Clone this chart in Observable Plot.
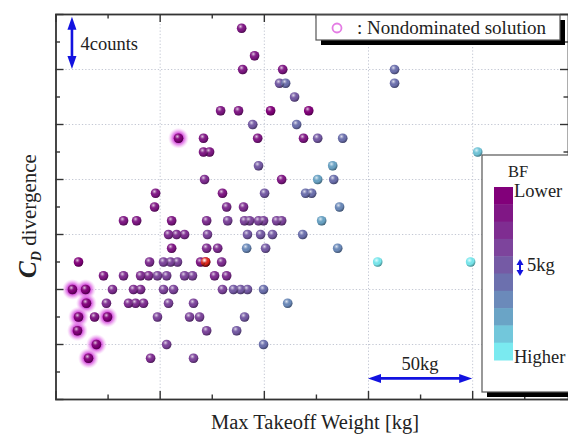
<!DOCTYPE html>
<html><head><meta charset="utf-8">
<script src="https://cdn.jsdelivr.net/npm/d3@7"></script>
<script src="https://cdn.jsdelivr.net/npm/@observablehq/plot@0.6"></script>
<style>
html,body{margin:0;padding:0;background:#fff;}
#chart{width:568px;height:434px;overflow:hidden;}
#chart svg text{font-family:"Liberation Serif","Times New Roman",serif !important;}
</style></head><body><div id="chart"></div>
<script>
// ---------- data ----------
// C_D divergence in counts, one row per level
const cdLevels = [27,25,24,23,22,21,20,19,18,17,16,15,14,13,12,11,10,9,8,7,6,5,4,3];
// Max takeoff weight [kg] of each solution in that row
const weightRows = [
 [89.1],
 [95.3],
 [89.6,108.8,162.5],
 [107.3,110.2,162.5],
 [114.5],
 [79.0,87.6,103.0,121.3],
 [94.4,115.5],
 [58.8,70.8,96.8,118.8,125.6,137.6],
 [70.8,73.7,202.4],
 [97.2,132.8],
 [71.3,108.3,125.6,133.3],
 [47.8,79.9,100.1,119.8,122.7],
 [47.3,81.9,90.0,136.1],
 [32.4,38.7,55.5,72.3,82.4,90.5,92.9,97.2,99.6,105.9,108.3,127.5],
 [54.0,57.9,61.7,72.7,91.9,98.2,103.9,118.4],
 [55.5,72.3,77.6,91.5,100.6,135.2],
 [10.8,44.9,51.6,55.0,58.3,69.4,71.8,79.5,154.4,199.0],
 [22.8,32.4,40.6,44.4,48.7,53.1,61.7,65.5,76.1,81.9],
 [7.9,14.2,27.1,37.2,40.6,51.6,56.4,79.9,85.2,88.6,91.9,99.6],
 [14.6,24.2,34.8,38.2,42.0,54.0,66.0,111.2],
 [10.8,18.5,24.7,48.7,64.1,68.9,90.5],
 [10.3,72.3,86.7],
 [19.4,53.1,99.6],
 [15.6,45.4,66.0]
];
// BF step (0 = lower ... 9 = higher, 5 kg per step)
const bfRows = [
 [1],[1],[1,1,5],[4,5,5],[4],[1,1,0,0],[4,5],[0,1,1,1,4,5],[1,1,8],[4,7],[2,1,7,5],[1,1,4,5,5],[1,2,2,6],
 [1,1,1,2,3,3,3,3,3,3,3,7],[2,2,2,3,4,4,4,5],[1,2,2,6,4,6],[0,2,3,3,3,1,1,2,9,9],[1,2,2,2,3,3,3,3,2,2],
 [0,0,2,2,2,3,3,3,4,4,4,5],[0,2,2,2,2,3,3,6],[0,1,0,3,3,3,4],[0,3,4],[0,3,5],[0,2,3]
];
// nondominated solutions [weight kg, counts]
const ndPoints = [[58.8,19],[7.9,8],[14.2,8],[14.6,7],[10.8,6],[24.7,6],[10.3,5],[19.4,4],[15.6,3]];
// highlighted (red) solution
const redPoint = [[71.8,10]];
// colour bar
const bfSteps = [0,1,2,3,4,5,6,7,8,9];
const bfStops = [0,3,5,7,9];
const bfColors = ["#82007a","#7d449c","#6c70ae","#6aa4c6","#7aeaf0"];
// ticks
const xMajor = [0,50,100,150,200];
const xMinor = [25,75,125,175,225];
const yMajor = [0,4,8,12,16,20,24,28];
const yMinor = [2,6,10,14,18,22,26];
const xGrid = [50,100,150,200];
const yGrid = [4,8,12,16,20,24];
// annotations
const countArrow = {x: 7.9, y1: 24, y2: 27.8, label: "4counts"};
const kgArrow = {y: 1.5, x1: 150, x2: 200, label: "50kg"};

const points = [];
cdLevels.forEach((c, i) => weightRows[i].forEach((w, j) => points.push({w, cd: c, bf: bfRows[i][j]})));

// ---------- plot ----------
const W = 568, H = 434, ML = 55.5, MR = 0, MT = 14, MB = 35;
const innerW = W - ML - MR, innerH = H - MT - MB;
const tickCol = "#333";
const plot = Plot.plot({
  width: W, height: H,
  marginLeft: ML, marginRight: MR, marginTop: MT, marginBottom: MB,
  x: {domain: [0, 246], axis: null},
  y: {domain: [0, 28], axis: null},
  color: {type: "linear", domain: bfStops, range: bfColors},
  style: {background: "#fff", fontFamily: "'Liberation Serif', 'Times New Roman', serif", overflow: "hidden"},
  marks: [
    Plot.ruleX(xGrid, {stroke: "#c4c8d4", strokeDasharray: "1.3,2"}),
    Plot.ruleY(yGrid, {stroke: "#c4c8d4", strokeDasharray: "1.3,2"}),
    Plot.dot(ndPoints, {x: d => d[0], y: d => d[1], r: 10.5, fill: "url(#ndHalo)"}),
    Plot.dot(points, {x: "w", y: "cd", r: 4.8, fill: "bf"}),
    Plot.dot(redPoint, {x: d => d[0], y: d => d[1], r: 4.8, fill: "#e8261a"}),
    Plot.dot(points, {x: "w", y: "cd", r: 4.8, fill: "url(#shine)"}),
    Plot.dot(redPoint, {x: d => d[0], y: d => d[1], r: 4.8, fill: "url(#shine)"}),
    // inward ticks
    Plot.ruleX(xMajor, {insetTop: innerH - 8, stroke: tickCol, strokeWidth: 1.4}),
    Plot.ruleX(xMinor, {insetTop: innerH - 4.5, stroke: tickCol, strokeWidth: 1.4}),
    Plot.ruleX(xMajor, {insetBottom: innerH - 8, stroke: tickCol, strokeWidth: 1.4}),
    Plot.ruleX(xMinor, {insetBottom: innerH - 4.5, stroke: tickCol, strokeWidth: 1.4}),
    Plot.ruleY(yMajor, {insetRight: innerW - 8, stroke: tickCol, strokeWidth: 1.4}),
    Plot.ruleY(yMinor, {insetRight: innerW - 4.5, stroke: tickCol, strokeWidth: 1.4}),
    Plot.ruleY(yMajor, {insetLeft: innerW - 8, stroke: tickCol, strokeWidth: 1.4}),
    Plot.ruleY(yMinor, {insetLeft: innerW - 4.5, stroke: tickCol, strokeWidth: 1.4}),
    Plot.frame({stroke: "#333", strokeWidth: 1.8})
  ]
});
document.getElementById("chart").appendChild(plot);

// ---------- decorations ----------
const svg = d3.select(plot);
const xs = plot.scale("x"), ys = plot.scale("y"), cs = plot.scale("color");
const defs = svg.insert("defs", ":first-child");
const shine = defs.append("radialGradient").attr("id", "shine").attr("cx", 0.38).attr("cy", 0.32).attr("r", 0.72);
[[0, "#fff", 0.75], [0.3, "#fff", 0.15], [0.6, "#000", 0], [1, "#000", 0.45]].forEach(([o, c, a]) =>
  shine.append("stop").attr("offset", o).attr("stop-color", c).attr("stop-opacity", a));
const halo = defs.append("radialGradient").attr("id", "ndHalo");
[[0, "#c020c8", 1], [0.45, "#d040d8", 0.95], [0.7, "#e070e6", 0.55], [1, "#f4b4f4", 0]].forEach(([o, c, a]) =>
  halo.append("stop").attr("offset", o).attr("stop-color", c).attr("stop-opacity", a));

const font = "'Liberation Serif', 'Times New Roman', serif";
const txtCol = "#222";
const blue = "#1212e0";
function txt(g, x, y, size, anchor, s) {
  return g.append("text").attr("x", x).attr("y", y)
    .style("font-family", font).style("font-size", size + "px").style("text-anchor", anchor)
    .style("fill", txtCol).text(s);
}

function dblArrow(g, x1, y1, x2, y2, head, half, sw) {
  const dx = x2 - x1, dy = y2 - y1, L = Math.hypot(dx, dy), ux = dx / L, uy = dy / L, px = -uy, py = ux;
  g.append("line").attr("x1", x1 + ux * head * 0.8).attr("y1", y1 + uy * head * 0.8)
    .attr("x2", x2 - ux * head * 0.8).attr("y2", y2 - uy * head * 0.8)
    .attr("stroke", blue).attr("stroke-width", sw);
  const tri = (tx, ty, sx, sy) => {
    const bx = tx - sx * head, by = ty - sy * head;
    g.append("polygon").attr("fill", blue)
      .attr("points", `${tx},${ty} ${bx + px * half},${by + py * half} ${bx - px * half},${by - py * half}`);
  };
  tri(x2, y2, ux, uy);
  tri(x1, y1, -ux, -uy);
}
const ann = svg.append("g");
// 4counts
dblArrow(ann, xs.apply(countArrow.x), ys.apply(countArrow.y1), xs.apply(countArrow.x), ys.apply(countArrow.y2), 13, 4.5, 2.6);
txt(ann, xs.apply(countArrow.x) + 8.5, 50, 18.5, "start", countArrow.label);
// 50kg
dblArrow(ann, xs.apply(kgArrow.x1), ys.apply(kgArrow.y), xs.apply(kgArrow.x2), ys.apply(kgArrow.y), 13, 4.5, 2.6);
txt(ann, (xs.apply(kgArrow.x1) + xs.apply(kgArrow.x2)) / 2, 370, 18.5, "middle", kgArrow.label);

// axis labels
txt(svg, 315, 429, 20.5, "middle", "Max Takeoff Weight [kg]");
const yl = svg.append("text").attr("transform", "translate(36,216) rotate(-90)")
  .style("text-anchor", "middle").style("font-family", font).style("fill", txtCol);
yl.append("tspan").style("font-size", "25px").style("font-weight", "bold").style("font-style", "italic").text("C");
yl.append("tspan").style("font-size", "14px").style("font-weight", "bold").style("font-style", "italic").attr("dy", 5).text("D");
yl.append("tspan").style("font-size", "21px").attr("dy", -5).text("\u00a0divergence");

// nondominated legend
const lg = svg.append("g");
lg.append("rect").attr("x", 321).attr("y", 20).attr("width", 244).attr("height", 25).attr("fill", "#000");
lg.append("rect").attr("x", 316).attr("y", 15).attr("width", 244).attr("height", 25).attr("fill", "#fff")
  .attr("stroke", "#555").attr("stroke-width", 1.2);
lg.append("circle").attr("cx", 337).attr("cy", 28).attr("r", 4.5).attr("fill", "none")
  .attr("stroke", "#e47ce4").attr("stroke-width", 1.8);
txt(lg, 357, 34, 19, "start", ": Nondominated solution");

// colour bar legend
const cb = svg.append("g");
cb.append("rect").attr("x", 487).attr("y", 160).attr("width", 120).attr("height", 237).attr("fill", "#000");
cb.append("rect").attr("x", 482).attr("y", 155).attr("width", 120).attr("height", 237).attr("fill", "#fff")
  .attr("stroke", "#555").attr("stroke-width", 1.2);
txt(cb, 518, 177, 16.5, "middle", "BF");
const barTop = 187, barBot = 360, bh = (barBot - barTop) / bfSteps.length;
bfSteps.forEach((s, i) => cb.append("rect").attr("x", 494).attr("y", barTop + i * bh).attr("width", 19)
  .attr("height", bh + 0.5).attr("fill", cs.apply(s)));
txt(cb, 514, 197, 18.5, "start", "Lower");
txt(cb, 514, 363, 18.5, "start", "Higher");
dblArrow(cb, 520, 259, 520, 276, 6, 3.5, 2);
txt(cb, 527, 271, 18.5, "start", "5kg");
</script></body></html>
